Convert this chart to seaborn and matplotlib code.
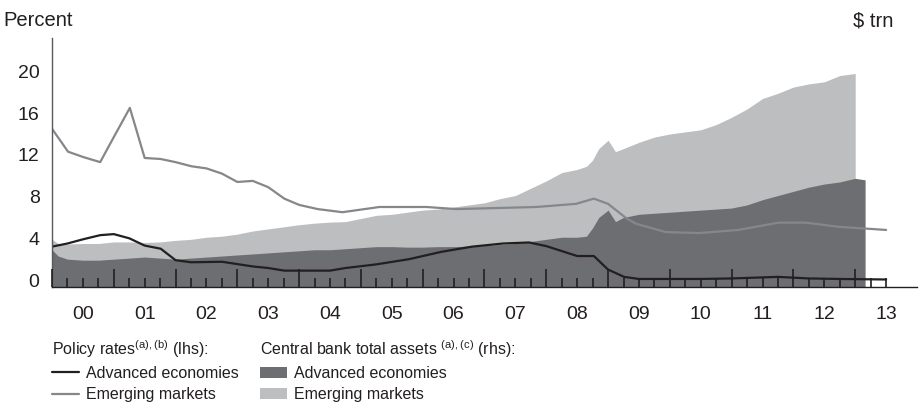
import numpy as np
import matplotlib
matplotlib.use("Agg")
import matplotlib.pyplot as plt
from matplotlib.lines import Line2D
from matplotlib.patches import Patch
import seaborn as sns

# Policy rates (lhs, percent)
adv_rate_dates = [2000.0, 2000.25, 2000.5, 2000.78, 2001.0, 2001.25, 2001.5, 2001.76,
                  2002.0, 2002.25, 2002.75, 2003.25, 2003.5, 2003.76, 2004.5, 2004.75,
                  2005.25, 2005.78, 2006.3, 2006.8, 2007.3, 2007.72, 2008.0, 2008.5,
                  2008.77, 2009.0, 2009.26, 2009.5, 2010.0, 2010.5, 2011.0, 2011.25,
                  2011.75, 2012.25, 2012.75, 2013.5]
adv_rate = [3.2, 3.5, 3.9, 4.3, 4.4, 4.0, 3.3, 3.0,
            1.9, 1.7, 1.75, 1.3, 1.15, 0.9, 0.9, 1.15,
            1.5, 2.0, 2.7, 3.2, 3.5, 3.6, 3.25, 2.3,
            2.3, 1.0, 0.3, 0.1, 0.1, 0.1, 0.15, 0.2,
            0.3, 0.15, 0.1, 0.05]

em_rate_dates = [2000.0, 2000.26, 2000.5, 2000.78, 2001.0, 2001.26, 2001.5, 2001.76,
                 2002.0, 2002.26, 2002.5, 2002.75, 2003.0, 2003.25, 2003.5, 2003.76,
                 2004.0, 2004.3, 2004.7, 2005.3, 2006.06, 2006.54, 2007.2, 2007.84,
                 2008.48, 2008.77, 2009.0, 2009.3, 2009.45, 2009.93, 2010.47, 2011.11,
                 2011.76, 2012.2, 2012.73, 2013.5]
em_rate = [14.5, 12.3, 11.8, 11.3, 13.7, 16.5, 11.7, 11.6,
           11.3, 10.9, 10.7, 10.2, 9.4, 9.5, 8.9, 7.8,
           7.2, 6.8, 6.5, 7.0, 7.0, 6.8, 6.9, 7.0,
           7.3, 7.8, 7.3, 5.9, 5.4, 4.6, 4.5, 4.8,
           5.5, 5.5, 5.1, 4.8]

# Central bank total assets (rhs, $ trn), stacked: advanced at the bottom
asset_dates = [2000.0, 2000.1, 2000.25, 2000.5, 2000.75, 2001.0, 2001.25, 2001.5, 2001.75,
               2002.0, 2002.25, 2002.5, 2002.75, 2003.0, 2003.25, 2003.5, 2003.75,
               2004.0, 2004.25, 2004.5, 2004.75, 2005.0, 2005.25, 2005.5, 2005.75,
               2006.0, 2006.25, 2006.5, 2006.75, 2007.0, 2007.25, 2007.5, 2007.75,
               2008.0, 2008.25, 2008.5, 2008.65, 2008.75, 2008.85, 2009.0, 2009.12,
               2009.25, 2009.5, 2009.75, 2010.0, 2010.25, 2010.5, 2010.75, 2011.0,
               2011.25, 2011.5, 2011.75, 2012.0, 2012.25, 2012.5, 2012.75, 2013.0, 2013.16]
adv_assets = [2.9, 2.3, 2.0, 1.9, 1.9, 2.0, 2.1, 2.2, 2.1,
              2.0, 2.1, 2.2, 2.3, 2.4, 2.5, 2.6, 2.7,
              2.8, 2.9, 2.9, 3.0, 3.1, 3.2, 3.2, 3.15,
              3.15, 3.2, 3.2, 3.25, 3.3, 3.4, 3.5, 3.7,
              3.9, 4.1, 4.1, 4.2, 5.0, 6.0, 6.7, 5.6,
              6.0, 6.3, 6.4, 6.5, 6.6, 6.7, 6.8, 6.9,
              7.2, 7.7, 8.1, 8.5, 8.9, 9.2, 9.4, 9.75, 9.6]
em_assets = [1.0, 1.2, 1.45, 1.6, 1.6, 1.65, 1.55, 1.4, 1.55,
             1.8, 1.8, 1.9, 1.9, 2.0, 2.2, 2.3, 2.4,
             2.5, 2.55, 2.65, 2.6, 2.8, 3.0, 3.1, 3.35,
             3.55, 3.6, 3.8, 3.95, 4.1, 4.4, 4.6, 5.1,
             5.6, 6.2, 6.5, 6.7, 6.5, 6.6, 6.7, 6.7,
             6.6, 6.9, 7.3, 7.5, 7.6, 7.7, 8.1, 8.7,
             9.2, 9.7, 9.8, 10.0, 9.9, 9.8, 10.2, 10.05, np.nan]

year_labels = ["00", "01", "02", "03", "04", "05", "06", "07",
               "08", "09", "10", "11", "12", "13"]

DARK = "#6d6e71"
LIGHT = "#bcbec0"
EM_LINE = "#85878a"
BLACK = "#231f20"

sns.set_theme(style="white")
plt.rcParams["font.family"] = ["Liberation Sans", "DejaVu Sans"]
plt.rcParams["mathtext.fontset"] = "custom"
plt.rcParams["mathtext.rm"] = "Liberation Sans"

fig = plt.figure(figsize=(9.21, 4.05), dpi=100)
ax = fig.add_axes([52 / 921, 118 / 405, 865 / 921, 249 / 405])
ax.set_axisbelow(False)

ymin, ymax = -0.67, 23.2
adv = np.array(adv_assets)
tot = adv + np.array(em_assets)

ax.fill_between(asset_dates, ymin, tot, color=LIGHT, linewidth=0, zorder=1)
ax.fill_between(asset_dates, ymin, adv, color=DARK, linewidth=0, zorder=1.1)

sns.lineplot(x=em_rate_dates, y=em_rate, color=EM_LINE, linewidth=1.6, ax=ax, zorder=2)
sns.lineplot(x=adv_rate_dates, y=adv_rate, color=BLACK, linewidth=1.6, ax=ax, zorder=2.1)

ax.set_xlim(2000, 2014)
ax.set_ylim(ymin, ymax)

# year ticks tall, quarter ticks short, year labels on the mid-year quarter tick
years = list(range(2000, 2014))
ax.set_xticks(years, labels=[""] * len(years))
quarters, qlabels = [], []
for i, y in enumerate(years):
    for q in (0.25, 0.5, 0.75):
        if y + q > 2013.5:
            continue
        quarters.append(y + q)
        qlabels.append(year_labels[i] if q == 0.5 else "")
ax.set_xticks(quarters, labels=qlabels, minor=True)
ax.tick_params(axis="x", which="major", direction="in", length=13, width=1.2,
               color=BLACK, bottom=True)
ax.tick_params(axis="x", which="minor", direction="in", length=6.5, width=1.2,
               color=BLACK, bottom=True, labelsize=14, pad=14, labelcolor=BLACK)

ax.set_yticks([0, 4, 8, 12, 16, 20])
ax.tick_params(axis="y", length=0, labelsize=14, pad=9, labelcolor=BLACK)

ax.set_xlabel("")
ax.set_ylabel("")
for s in ("top", "right"):
    ax.spines[s].set_visible(False)
ax.spines["left"].set_color("#58595b")
ax.spines["left"].set_linewidth(1.0)
ax.spines["bottom"].set_color(BLACK)
ax.spines["bottom"].set_linewidth(1.0)
ax.grid(False)

fig.text(3 / 921, 1 - 26 / 405, "Percent", fontsize=14.5, color=BLACK, va="baseline")
fig.text(893 / 921, 1 - 26 / 405, "$ trn", fontsize=14.5, color=BLACK, va="baseline",
         ha="right")

leg_kw = dict(loc="upper left", bbox_transform=fig.transFigure, frameon=False,
              borderpad=0, borderaxespad=0, fontsize=11.5, title_fontsize=11.5,
              handlelength=1.7, handletextpad=0.45, labelspacing=0.4,
              alignment="left")
h1 = [Line2D([], [], color=BLACK, lw=1.6), Line2D([], [], color=EM_LINE, lw=1.6)]
leg1 = fig.legend(h1, ["Advanced economies", "Emerging markets"],
                  title=r"Policy rates$^{\rm (a),(b)}$ (lhs):",
                  bbox_to_anchor=(52 / 921, 1 - 338 / 405), **leg_kw)
h2 = [Patch(color=DARK, lw=0), Patch(color=LIGHT, lw=0)]
leg2 = fig.legend(h2, ["Advanced economies", "Emerging markets"],
                  title=r"Central bank total assets $^{\rm (a),(c)}$ (rhs):",
                  bbox_to_anchor=(260 / 921, 1 - 338 / 405), **leg_kw)
for lg in (leg1, leg2):
    for t in lg.get_texts():
        t.set_color(BLACK)
    lg.get_title().set_color(BLACK)

fig.savefig("out.png", dpi=100)
